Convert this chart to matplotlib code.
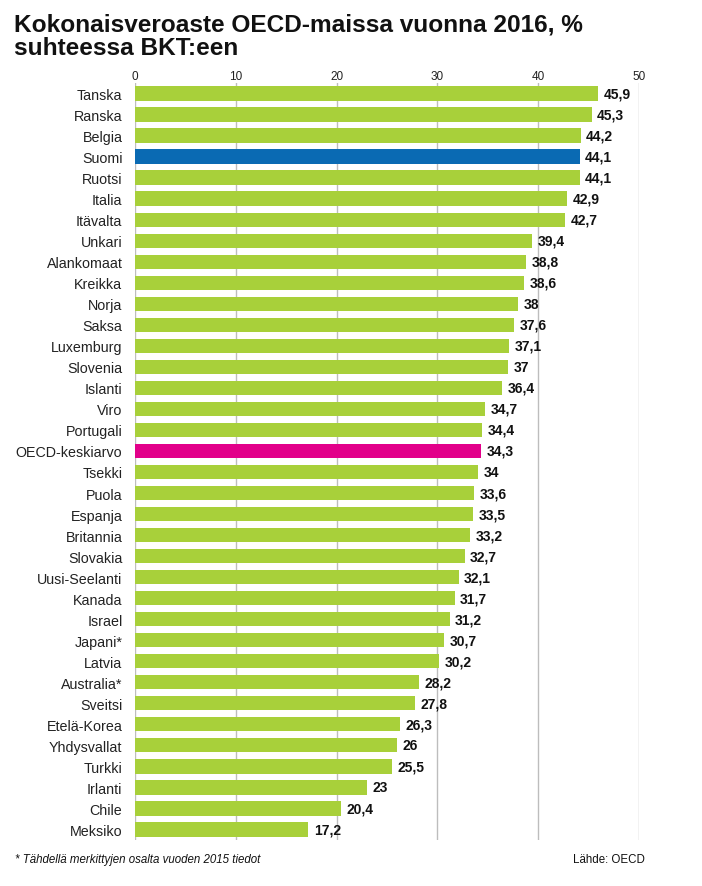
import matplotlib.pyplot as plt

countries = ["Tanska", "Ranska", "Belgia", "Suomi", "Ruotsi", "Italia", "Itävalta",
             "Unkari", "Alankomaat", "Kreikka", "Norja", "Saksa", "Luxemburg",
             "Slovenia", "Islanti", "Viro", "Portugali", "OECD-keskiarvo", "Tsekki",
             "Puola", "Espanja", "Britannia", "Slovakia", "Uusi-Seelanti", "Kanada",
             "Israel", "Japani*", "Latvia", "Australia*", "Sveitsi", "Etelä-Korea",
             "Yhdysvallat", "Turkki", "Irlanti", "Chile", "Meksiko"]
values = [45.9, 45.3, 44.2, 44.1, 44.1, 42.9, 42.7, 39.4, 38.8, 38.6, 38, 37.6,
          37.1, 37, 36.4, 34.7, 34.4, 34.3, 34, 33.6, 33.5, 33.2, 32.7, 32.1,
          31.7, 31.2, 30.7, 30.2, 28.2, 27.8, 26.3, 26, 25.5, 23, 20.4, 17.2]
xticks = [0, 10, 20, 30, 40, 50]

green = "#a8d03a"
blue = "#0a6ab3"
pink = "#e2008a"

plt.rcParams['font.family'] = ['Liberation Sans', 'DejaVu Sans']

colors = []
for c in countries:
    if c == "Suomi":
        colors.append(blue)
    elif c == "OECD-keskiarvo":
        colors.append(pink)
    else:
        colors.append(green)

fig = plt.figure(figsize=(7.02, 8.87), dpi=100)
ax = fig.add_axes([0.1923, 0.0519, 0.7180, 0.8534])

ypos = list(range(len(countries)))
ax.barh(ypos, values, height=0.68, color=colors, zorder=2)

for y, v in zip(ypos, values):
    txt = ("%g" % v).replace(".", ",")
    ax.annotate(txt, (v, y), xytext=(4, 0), textcoords="offset points",
                ha="left", va="center", fontsize=10, fontweight="bold",
                color="#111111")

ax.set_xlim(0, 50)
ax.set_ylim(len(countries) - 0.5, -0.5)
ax.set_xticks(xticks)
ax.xaxis.tick_top()
ax.tick_params(axis="x", length=0, pad=1, labelsize=8.5, colors="#222222")
ax.set_yticks(ypos)
ax.set_yticklabels(countries)
ax.tick_params(axis="y", length=0, pad=9, labelsize=10.3, colors="#222222")
ax.grid(axis="x", color="#bdbdbd", linewidth=1, zorder=0)
for s in ax.spines.values():
    s.set_visible(False)

fig.text(0.020, 0.985, "Kokonaisveroaste OECD-maissa vuonna 2016, %\nsuhteessa BKT:een",
         ha="left", va="top", fontsize=17.6, fontweight="bold", linespacing=1.02,
         color="#111111")
fig.text(0.021, 0.031, "* Tähdellä merkittyjen osalta vuoden 2015 tiedot",
         ha="left", va="center", fontsize=8.3, style="italic", color="#111111")
fig.text(0.919, 0.031, "Lähde: OECD", ha="right", va="center", fontsize=8.3,
         color="#111111")

fig.savefig("out.png", dpi=100)
